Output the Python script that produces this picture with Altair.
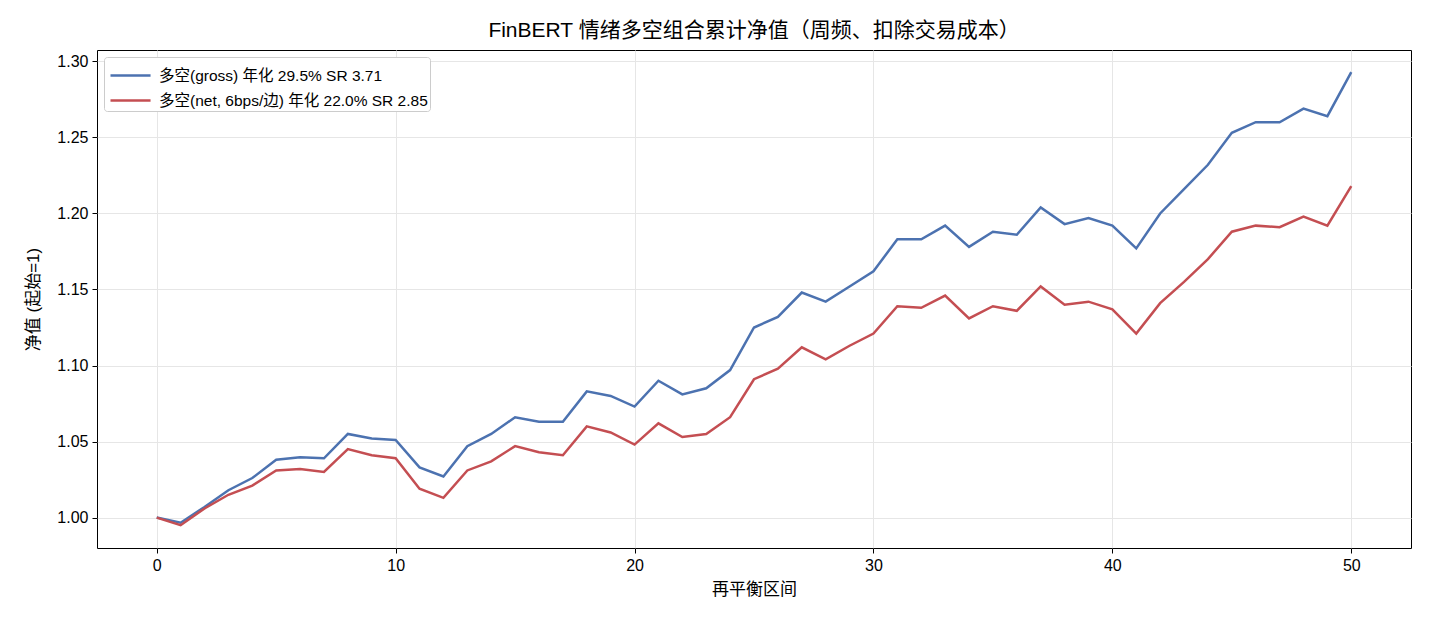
import altair as alt
import pandas as pd

periods = list(range(51))
gross = [1.000, 0.9966, 1.007, 1.018, 1.026, 1.038, 1.0396, 1.039, 1.055, 1.052,
         1.051, 1.033, 1.027, 1.047, 1.055, 1.066, 1.063, 1.063, 1.083, 1.080,
         1.073, 1.090, 1.081, 1.085, 1.097, 1.125, 1.132, 1.148, 1.142, 1.152,
         1.162, 1.183, 1.183, 1.192, 1.178, 1.188, 1.186, 1.204, 1.193, 1.197,
         1.192, 1.177, 1.200, 1.216, 1.232, 1.253, 1.260, 1.260, 1.269, 1.264,
         1.293]
net = [1.000, 0.995, 1.006, 1.015, 1.021, 1.031, 1.032, 1.030, 1.045, 1.041,
       1.039, 1.019, 1.013, 1.031, 1.037, 1.047, 1.043, 1.041, 1.060, 1.056,
       1.048, 1.062, 1.053, 1.055, 1.066, 1.091, 1.098, 1.112, 1.104, 1.113,
       1.121, 1.139, 1.138, 1.146, 1.131, 1.139, 1.136, 1.152, 1.140, 1.142,
       1.137, 1.121, 1.141, 1.155, 1.170, 1.188, 1.192, 1.191, 1.198, 1.192,
       1.218]
series_names = ["多空(gross) 年化 29.5% SR 3.71", "多空(net, 6bps/边) 年化 22.0% SR 2.85"]
colors = ["#4C72B0", "#C44E52"]

rows = []
for name, vals in zip(series_names, [gross, net]):
    for p, v in zip(periods, vals):
        rows.append({"period": p, "value": v, "series": name})
df = pd.DataFrame(rows)

FONT = "Liberation Sans, Noto Sans CJK SC"

chart = alt.Chart(df).mark_line(strokeWidth=2.5, clip=True).encode(
    x=alt.X("period:Q", title="再平衡区间",
            scale=alt.Scale(domain=[-2.5, 52.5], nice=False, zero=False),
            axis=alt.Axis(values=[0, 10, 20, 30, 40, 50], format="d")),
    y=alt.Y("value:Q", title="净值 (起始=1)",
            scale=alt.Scale(domain=[0.980, 1.3075], nice=False, zero=False),
            axis=alt.Axis(values=[1.00, 1.05, 1.10, 1.15, 1.20, 1.25, 1.30], format=".2f")),
    color=alt.Color("series:N", sort=series_names,
                    scale=alt.Scale(domain=series_names, range=colors),
                    legend=alt.Legend(title=None, orient="none", legendX=7, legendY=7,
                                      symbolType="M-1,0H1.67", symbolSize=900,
                                      symbolStrokeWidth=2.5, symbolOffset=3,
                                      labelFontSize=15.5,
                                      labelFont=FONT, labelColor="#000", labelLimit=0,
                                      labelOffset=17,
                                      strokeColor="#cccccc", fillColor="white",
                                      cornerRadius=3, padding=2, rowPadding=-5)),
).properties(
    width=1314, height=498,
    title=alt.TitleParams("FinBERT 情绪多空组合累计净值（周频、扣除交易成本）",
                          font=FONT, fontSize=21, fontWeight="normal", color="#000",
                          offset=9),
    autosize=alt.AutoSizeParams(type="none"),
    padding={"left": 97, "top": 50, "right": 19, "bottom": 76},
).configure_view(
    stroke="#000", strokeWidth=1
).configure_axis(
    labelFont=FONT, titleFont=FONT, labelFontSize=16, titleFontSize=17,
    titleFontWeight="normal", labelColor="#000", titleColor="#000",
    domain=False, tickColor="#000", tickSize=5, gridColor="#e6e6e6",
    gridWidth=1, labelPadding=4,
).configure_axisX(titlePadding=8).configure_axisY(titlePadding=14)

chart.save("out.html", embed_options={"renderer": "svg", "actions": False})
